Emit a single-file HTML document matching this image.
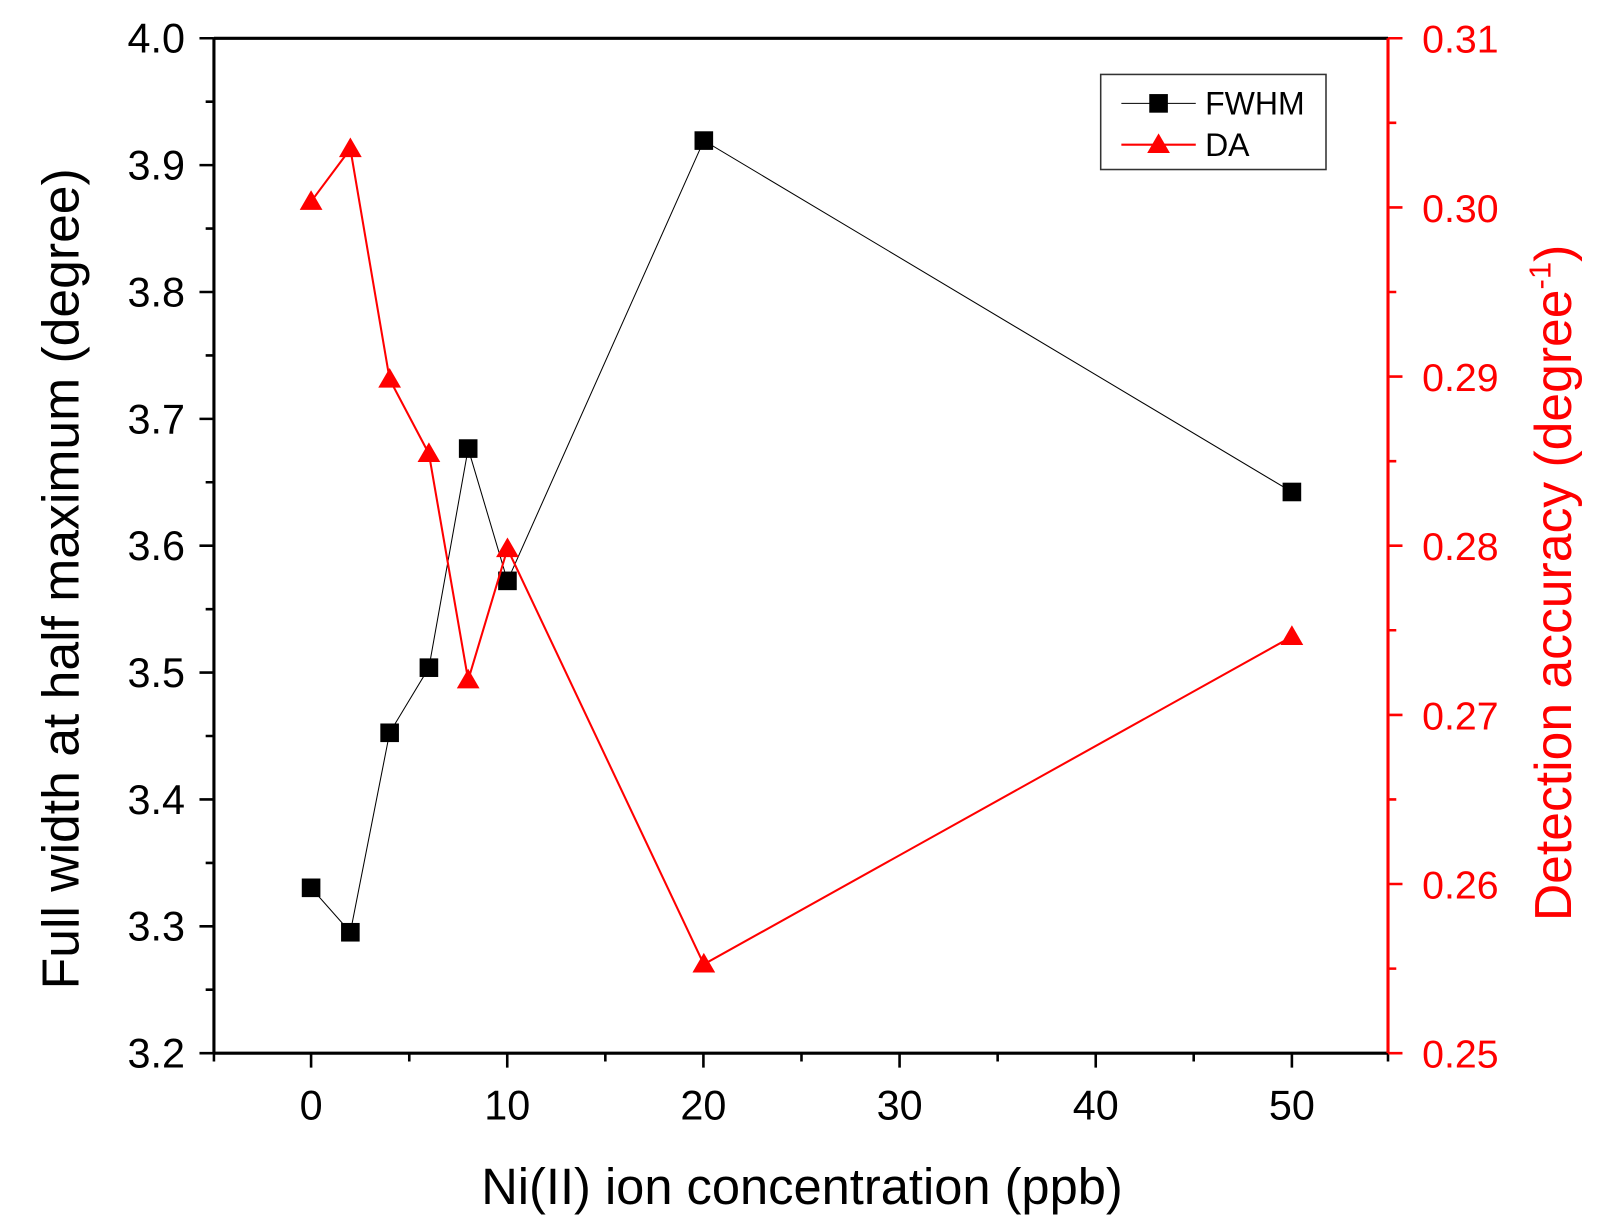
<!DOCTYPE html>
<html><head><style>body{margin:0;background:#fff}svg{display:block}</style></head><body>
<svg width="1619" height="1232" viewBox="0 0 1566.5 1192" xmlns="http://www.w3.org/2000/svg" font-family="Liberation Sans, Arial, sans-serif">
<rect width="1566.5" height="1192" fill="#fff"/>
<g stroke-width="2.5">
<g stroke="#000">
<line x1="207" y1="37" x2="1343" y2="37" stroke-width="3"/>
<line x1="207" y1="37" x2="207" y2="1019" stroke-width="3"/>
<line x1="207" y1="1019" x2="1343" y2="1019" stroke-width="3"/>
<path d="M207 37h-14M207 159.75h-14M207 282.5h-14M207 405.25h-14M207 528h-14M207 650.75h-14M207 773.5h-14M207 896.25h-14M207 1019h-14
M207 98.4h-8M207 221.1h-8M207 343.9h-8M207 466.6h-8M207 589.4h-8M207 712.1h-8M207 834.9h-8M207 957.6h-8"/>
<path d="M301 1019v14M490.8 1019v14M680.6 1019v14M870.4 1019v14M1060.2 1019v14M1250 1019v14
M207 1019v8M396 1019v8M585.7 1019v8M775.5 1019v8M965.3 1019v8M1155 1019v8M1343 1019v8"/>
</g>
<g stroke="#f00">
<line x1="1343" y1="37" x2="1343" y2="1019" stroke-width="3"/>
<path d="M1343 37h14M1343 200.7h14M1343 364.3h14M1343 528h14M1343 691.7h14M1343 855.3h14M1343 1019h14
M1343 118.8h8M1343 282.5h8M1343 446.2h8M1343 609.8h8M1343 773.5h8M1343 937.2h8"/>
</g>
</g>
<g font-size="40" text-anchor="end" fill="#000">
<text x="179" y="51">4.0</text><text x="179" y="173.7">3.9</text><text x="179" y="296.5">3.8</text><text x="179" y="419.2">3.7</text><text x="179" y="542">3.6</text><text x="179" y="664.7">3.5</text><text x="179" y="787.5">3.4</text><text x="179" y="910.2">3.3</text><text x="179" y="1033">3.2</text>
</g>
<g font-size="38" fill="#f00">
<text x="1376" y="51">0.31</text><text x="1376" y="214.7">0.30</text><text x="1376" y="378.3">0.29</text><text x="1376" y="542">0.28</text><text x="1376" y="705.7">0.27</text><text x="1376" y="869.3">0.26</text><text x="1376" y="1033">0.25</text>
</g>
<g font-size="40" text-anchor="middle">
<text x="301" y="1083">0</text><text x="490.8" y="1083">10</text><text x="680.6" y="1083">20</text><text x="870.4" y="1083">30</text><text x="1060.2" y="1083">40</text><text x="1250" y="1083">50</text>
</g>
<text x="776" y="1165" font-size="49" text-anchor="middle">Ni(II) ion concentration (ppb)</text>
<text transform="translate(76,560) rotate(-90)" font-size="50" text-anchor="middle">Full width at half maximum (degree)</text>
<text transform="translate(1520,564) rotate(-90)" font-size="50" text-anchor="middle" fill="#f00">Detection accuracy (degree<tspan font-size="30" dy="-20">-1</tspan><tspan dy="20">)</tspan></text>
<polyline fill="none" stroke="#000" stroke-width="1" points="301,859 339,902 377,709 415,646 453,434 491,562 681,136 1250,476"/>
<g fill="#000">
<rect x="292" y="850" width="18" height="18"/><rect x="330" y="893" width="18" height="18"/><rect x="368" y="700" width="18" height="18"/><rect x="406" y="637" width="18" height="18"/><rect x="444" y="425" width="18" height="18"/><rect x="482" y="553" width="18" height="18"/><rect x="672" y="127" width="18" height="18"/><rect x="1241" y="467" width="18" height="18"/>
</g>
<polyline fill="none" stroke="#f00" stroke-width="2" points="301,195 339,144 377,367 415,439 453,658 491,531 681,933 1250,616"/>
<g fill="#f00">
<path d="M301 184l11 19h-22z"/><path d="M339 133l11 19h-22z"/><path d="M377 356l11 19h-22z"/><path d="M415 428l11 19h-22z"/><path d="M453 647l11 19h-22z"/><path d="M491 520l11 19h-22z"/><path d="M681 922l11 19h-22z"/><path d="M1250 605l11 19h-22z"/>
</g>
<rect x="1065" y="72" width="218" height="92" fill="#fff" stroke="#333" stroke-width="1.5"/>
<line x1="1085" y1="100" x2="1157" y2="100" stroke="#000" stroke-width="1"/>
<rect x="1112" y="91" width="18" height="18" fill="#000"/>
<text x="1166" y="111" font-size="31">FWHM</text>
<line x1="1085" y1="140" x2="1157" y2="140" stroke="#f00" stroke-width="2"/>
<path d="M1121 129l11 19h-22z" fill="#f00"/>
<text x="1166" y="151" font-size="31">DA</text>
</svg>
</body></html>
